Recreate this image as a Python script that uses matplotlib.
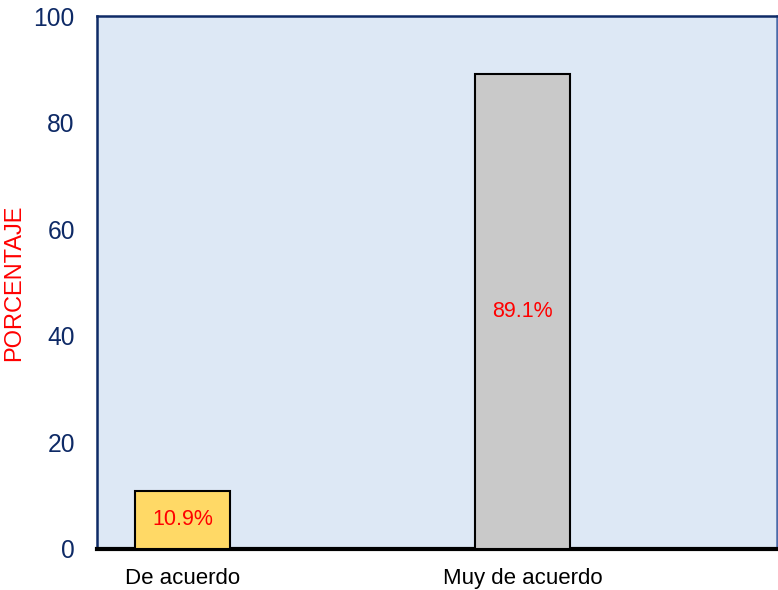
from matplotlib import pyplot as plt

# Values
categories = ["De acuerdo", "Muy de acuerdo"]
percentages = [10.9, 89.1]
bar_colors = ["#FFD966", "#C9C9C9"]
y_ticks = [0, 20, 40, 60, 80, 100]

navy = "#0E2A66"

fig = plt.figure(figsize=(7.78, 5.9), dpi=100)
ax = fig.add_axes([97 / 778, 41 / 590, 680 / 778, 533 / 590])
ax.set_facecolor("#DDE8F5")

x_pos = list(range(len(categories)))
ax.bar(x_pos, percentages, width=0.28, color=bar_colors,
       edgecolor="black", linewidth=1.5, zorder=3)

for x, val in zip(x_pos, percentages):
    ax.text(x, val / 2, f"{val}%", ha="center", va="center",
            color="red", fontsize=15.5, family="Liberation Sans", zorder=4)

ax.set_xlim(-0.2515, 1.7485)
ax.set_ylim(0, 100)
ax.set_xticks(x_pos)
ax.set_xticklabels(categories, fontsize=16, family="Liberation Sans")
ax.set_yticks(y_ticks)
ax.set_yticklabels([str(t) for t in y_ticks], fontsize=17.7,
                   family="Liberation Sans", color=navy)
ax.tick_params(axis="both", length=0)
ax.tick_params(axis="x", pad=14)
ax.tick_params(axis="y", pad=16)
ax.set_ylabel("PORCENTAJE", color="red", fontsize=17,
              family="Liberation Sans", labelpad=6)

for side in ["top", "left", "right"]:
    ax.spines[side].set_color(navy)
    ax.spines[side].set_linewidth(1.8)
ax.spines["right"].set_color("#4A6AA8")
ax.spines["bottom"].set_color("black")
ax.spines["bottom"].set_linewidth(3)

fig.savefig("out.png", dpi=100)
